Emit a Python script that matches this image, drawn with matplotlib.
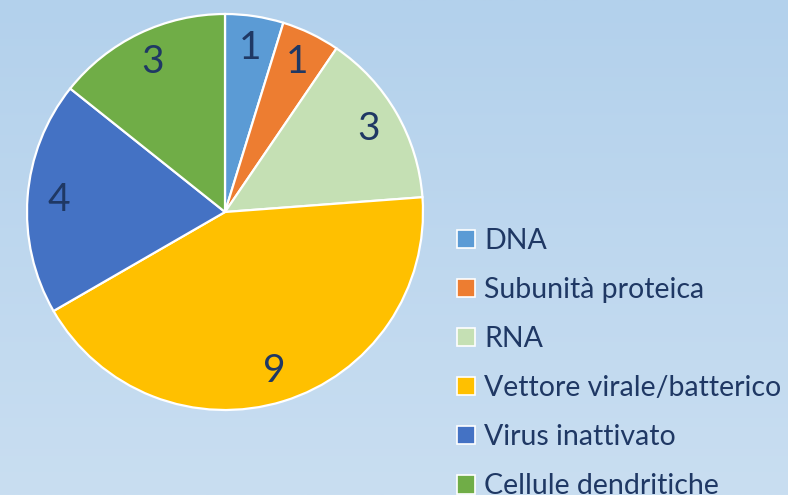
import numpy as np
import matplotlib.pyplot as plt
from matplotlib.colors import LinearSegmentedColormap

categories = ["DNA", "Subunità proteica", "RNA", "Vettore virale/batterico",
              "Virus inattivato", "Cellule dendritiche"]
values = [1, 1, 3, 9, 4, 3]
colors = ["#5B9BD5", "#ED7D31", "#C5E0B4", "#FFC000", "#4472C4", "#70AD47"]

plt.rcParams['font.family'] = ['Lato', 'DejaVu Sans']
txt_col = "#1F3864"

W, H = 788, 495
fig = plt.figure(figsize=(W / 100, H / 100), dpi=100)

# background gradient
bg = fig.add_axes([0, 0, 1, 1])
cmap = LinearSegmentedColormap.from_list("bg", ["#B3D1EC", "#C9DEF1"])
bg.imshow(np.linspace(0, 1, 256).reshape(-1, 1), aspect="auto", cmap=cmap,
          extent=[0, 1, 0, 1])
bg.axis("off")

# pie
cx, cy, r = 225, 212, 198
ax = fig.add_axes([(cx - r) / W, (H - cy - r) / H, 2 * r / W, 2 * r / H])
wedges, texts = ax.pie(values, colors=colors, labels=[str(v) for v in values],
                       startangle=90, counterclock=False, labeldistance=0.84,
                       wedgeprops=dict(edgecolor="white", linewidth=1.6),
                       textprops=dict(color=txt_col, fontsize=28,
                                      ha="center", va="center"))
ax.set_xlim(-1.0, 1.0)
ax.set_ylim(-1.0, 1.0)

fig.legend(wedges, categories, loc="upper left",
           bbox_to_anchor=(457 / W, 1 - 228 / H),
           frameon=False, fontsize=20.5, handlelength=0.62, handleheight=0.62,
           handletextpad=0.33, labelspacing=0.81, labelcolor=txt_col,
           borderaxespad=0, borderpad=0)
for h in fig.legends[0].legend_handles:
    h.set_edgecolor("white")
    h.set_linewidth(1.2)

fig.savefig("out.png", dpi=100)
